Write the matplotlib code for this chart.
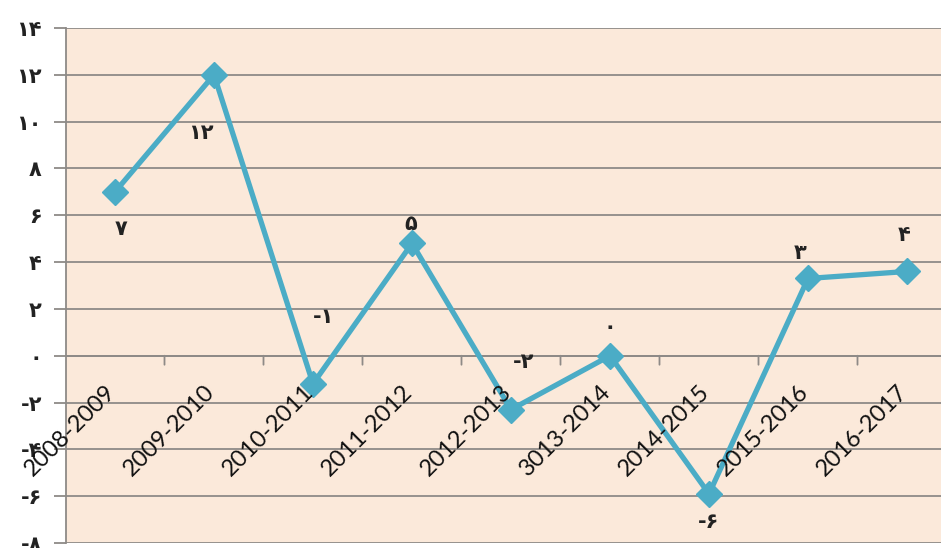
import matplotlib
matplotlib.use("Agg")
import matplotlib.pyplot as plt

categories = ["2008-2009", "2009-2010", "2010-2011", "2011-2012", "2012-2013",
              "3013-2014", "2014-2015", "2015-2016", "2016-2017"]
values = [7.0, 12.0, -1.2, 4.8, -2.3, 0.0, -5.9, 3.3, 3.6]
value_labels = ["۷", "۱۲", "-۱", "۵", "-۲", "۰", "-۶", "۳", "۴"]
y_ticks = [14, 12, 10, 8, 6, 4, 2, 0, -2, -4, -6, -8]
y_tick_labels = ["۱۴", "۱۲", "۱۰", "۸", "۶", "۴", "۲", "۰", "-۲", "-۴", "-۶", "-۸"]
# label offsets in pixels
label_offsets = [(6, -37), (-13, -58), (11, 67), (-1, 19), (13, 48),
                 (0, 29), (0, -28), (-8, 25), (-3, 36)]

BG = "#FBE9DA"
LINE = "#4BACC6"
GRID = "#8E8A87"

fig = plt.figure(figsize=(9.41, 5.48), dpi=100)
fig.patch.set_facecolor("white")
W, H = 941, 548
left_px, right_px = 65.5, 956.5
top_px, bot_px = 28, 543
ax = fig.add_axes([left_px / W, (H - bot_px) / H, (right_px - left_px) / W, (bot_px - top_px) / H])
ax.set_facecolor(BG)

x = list(range(len(categories)))
ax.plot(x, values, color=LINE, lw=3.8, marker="D", ms=13, mfc=LINE, mec=LINE, zorder=3,
        solid_joinstyle="miter")

ax.set_xlim(-0.5, len(categories) - 0.5)
ax.set_ylim(-8, 14)
ax.set_yticks(y_ticks)
ax.set_yticklabels(y_tick_labels, fontsize=15, family=["DejaVu Sans"], fontweight="bold",
                   color="#222222")
ax.yaxis.grid(True, color=GRID, lw=1.3)
ax.set_axisbelow(True)
ax.tick_params(axis="y", length=9, width=1.3, color=GRID, pad=8)

for s in ["top", "right", "bottom"]:
    ax.spines[s].set_visible(False)
ax.spines["left"].set_color(GRID)
ax.spines["left"].set_linewidth(1.3)

# x axis at y=0 with ticks between categories
ax.set_xticks([])
ax.axhline(0, color=GRID, lw=1.3, zorder=1)
for b in range(1, len(categories) + 1):
    ax.annotate("", xy=(b - 0.5, 0), xycoords="data",
                xytext=(0, -9), textcoords="offset pixels",
                arrowprops=dict(arrowstyle="-", color=GRID, lw=1.3, shrinkA=0, shrinkB=0))

for i, c in enumerate(categories):
    ax.annotate(c, xy=(i, 0), xycoords="data", xytext=(-10, -25), textcoords="offset pixels",
                rotation=45, rotation_mode="anchor", ha="right", va="top",
                fontsize=17, family=["Lato", "DejaVu Sans"], color="#111111")

for i, (v, lab) in enumerate(zip(values, value_labels)):
    dx, dy = label_offsets[i]
    ax.annotate(lab, xy=(i, v), xycoords="data", xytext=(dx, dy), textcoords="offset pixels",
                ha="center", va="center", fontsize=15, fontweight="bold",
                family=["DejaVu Sans"], color="#222222")

fig.savefig("out.png", dpi=100, facecolor="white")
